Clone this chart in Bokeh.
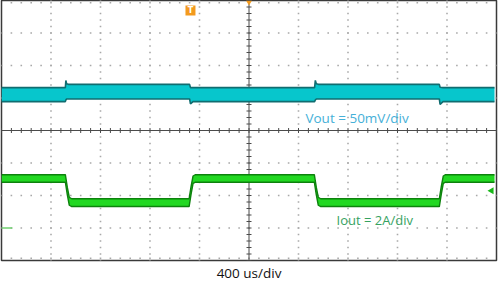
import numpy as np
from bokeh.plotting import figure
from bokeh.models import Range1d, Label, Title
from bokeh.embed import file_html
from bokeh.resources import INLINE
from bokeh.core.properties import value

# ---- scope settings ----
TIME_PER_DIV_US = 400          # 400 us/div
N_HDIV, N_VDIV = 10, 8
time_label = "400 us/div"
vout_label = "Vout = 50mV/div"
iout_label = "Iout = 2A/div"

# ---- CH1: Vout envelope (time in us, level in screen divisions) ----
vout_t_us = [0, 516, 520, 526, 540, 1520, 1527, 1548, 2530, 2536, 2544, 2560, 3538, 3544, 3568, 3984]
vout_top = [1.32, 1.32, 1.54, 1.44, 1.42, 1.42, 1.32, 1.32, 1.32, 1.54, 1.44, 1.42, 1.42, 1.33, 1.32, 1.32]
vout_bot = [0.89, 0.89, 0.94, 0.97, 0.97, 0.97, 0.82, 0.89, 0.89, 0.94, 0.97, 0.97, 0.97, 0.80, 0.89, 0.89]

# ---- CH2: Iout envelope (time in us, level in screen divisions) ----
iout_t_us = [0, 516, 532, 548, 568, 1516, 1532, 1548, 1568, 2528, 2544, 2560, 2580, 3538, 3554, 3570, 3588, 3984]
iout_top = [-1.36, -1.36, -1.75, -2.06, -2.10, -2.10, -1.72, -1.40, -1.36, -1.36, -1.75, -2.06, -2.10, -2.10, -1.72, -1.40, -1.36, -1.36]
iout_bot = [-1.59, -1.59, -1.98, -2.30, -2.34, -2.34, -1.96, -1.63, -1.59, -1.59, -1.98, -2.30, -2.34, -2.34, -1.96, -1.63, -1.59, -1.59]

# markers (time in us, level in divisions)
trigger_t_us = 1527
trigger_level = -1.85
ch2_ground = -3.0

p = figure(width=498, height=287, output_backend="svg", toolbar_location=None,
           x_range=Range1d(0, N_HDIV * TIME_PER_DIV_US), y_range=Range1d(-N_VDIV / 2, N_VDIV / 2),
           x_axis_type=None, y_axis_type=None,
           min_border_left=1, min_border_right=2, min_border_top=0, min_border_bottom=27,
           background_fill_color="white", border_fill_color="white")
p.grid.visible = False
p.outline_line_color = "#3a3a3a"
p.outline_line_width = 1.5

T = TIME_PER_DIV_US
# dotted graticule
gx, gy = [], []
for k in range(1, N_HDIV):
    if k == 5:
        continue
    ys = np.arange(-4, 4.001, 0.2)
    gx += [k * T] * len(ys)
    gy += list(ys)
for j in range(-3, 4):
    if j == 0:
        continue
    xs = np.arange(0, 10.001, 0.2) * T
    gx += list(xs)
    gy += [j] * len(xs)
for yb in (-3.93, 3.93):
    xs = np.arange(0.2, 10, 0.2) * T
    gx += list(xs)
    gy += [yb] * len(xs)
p.scatter(gx, gy, marker="square", size=1.6, fill_color="#a9a9a9", line_color=None)

# center cross with minor ticks
p.line([0, 10 * T], [0, 0], line_color="#4a4a4a", line_width=1)
p.line([5 * T, 5 * T], [-4, 4], line_color="#4a4a4a", line_width=1)
tx = np.arange(0, 10.001, 0.2) * T
p.scatter(tx, [0] * len(tx), marker="dash", angle=np.pi / 2, size=5, line_color="#4a4a4a", line_width=1)
ty = np.arange(-4, 4.001, 0.2)
p.scatter([5 * T] * len(ty), ty, marker="dash", size=5, line_color="#4a4a4a", line_width=1)

# Vout trace
p.varea(x=vout_t_us, y1=vout_bot, y2=vout_top, fill_color="#07c6cc")
p.line(vout_t_us, vout_top, line_color="#116d70", line_width=1.6)
p.line(vout_t_us, vout_bot, line_color="#116d70", line_width=1.6)

# Iout trace
p.varea(x=iout_t_us, y1=iout_bot, y2=iout_top, fill_color="#22d822")
p.line(iout_t_us, iout_top, line_color="#0d820d", line_width=1.4)
p.line(iout_t_us, iout_bot, line_color="#0d820d", line_width=1.4)

# markers
p.scatter([trigger_t_us], [3.69], marker="square", size=10, fill_color="#f39a1e", line_color=None)
p.text([trigger_t_us], [3.69], text=["T"], text_color="white", text_font=value("DejaVu Sans"),
       text_font_size="8px", text_font_style="bold", text_align="center", text_baseline="middle")
p.scatter([5 * T], [3.95], marker="inverted_triangle", size=6, fill_color="#f39a1e", line_color=None)
p.scatter([9.9 * T], [trigger_level], marker="triangle", angle=np.pi / 2, size=7,
          fill_color="#18b818", line_color=None)
p.line([0, 0.22 * T], [ch2_ground, ch2_ground], line_color="#6fd06f", line_width=1.5)

# labels
p.add_layout(Label(x=6.14 * T, y=0.4, text=vout_label, text_color="#45b0d8",
                   text_font="Open Sans", text_font_size="13.5px", text_baseline="middle"))
p.add_layout(Label(x=6.77 * T, y=-2.75, text=iout_label, text_color="#35a25f",
                   text_font="Open Sans", text_font_size="13px", text_baseline="middle"))
p.add_layout(Title(text=time_label, align="center", text_color="#111111",
                   text_font="Open Sans", text_font_size="13.5px", text_font_style="normal",
                   standoff=2, offset=0), "below")

open("out.html", "w").write(file_html(p, INLINE))
